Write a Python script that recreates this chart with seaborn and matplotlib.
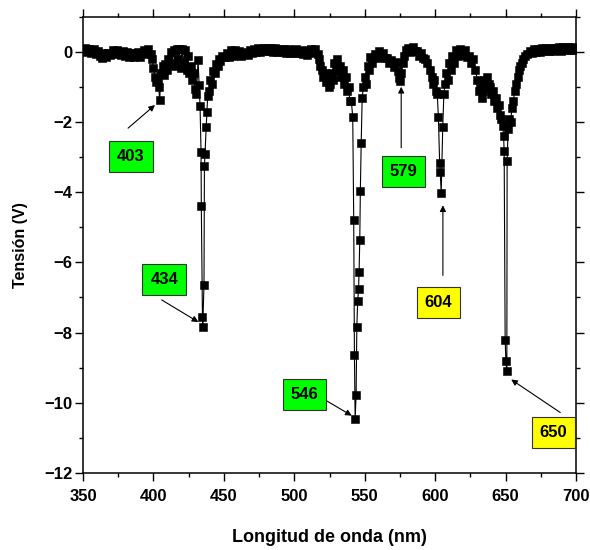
import matplotlib
matplotlib.use("Agg")
import matplotlib.pyplot as plt
import seaborn as sns
import pandas as pd

# ---------------- data ----------------
wavelength = [
    350, 351.5, 353, 354.5, 356, 357.5, 359, 360.5, 362, 363.5, 365, 366.5, 368, 369.5,
    371, 372.5, 374, 375.5, 377, 378.5, 380, 381.5, 383, 384.5, 386, 387.5, 389, 390.5,
    392, 393.5, 395, 396.5, 398,
    399, 400, 401, 402, 403, 403.8, 404.4, 405.5, 406.5, 407.5, 408.5, 409.5, 410.5,
    411.5, 412.5, 413.5, 414.5, 415.5, 416.5, 417.5, 418.5, 419.5, 420.5, 421.5, 422.5,
    423.5, 424.5, 425.5, 426.5, 427.5, 428.5, 429.5, 430.5, 431.7, 432.5,
    433.1, 433.8, 434.0, 434.8, 435.0, 435.9, 436.2, 436.6, 437.4, 437.9,
    438.5, 439.5, 440.5, 441.5, 442.5, 443.5, 444.5, 445.5, 446.5, 447.5, 449, 450.5,
    452, 453.5, 455, 456.5, 458, 459.5, 461, 462.5, 464, 465.5, 467, 468.5, 470, 471.5,
    473, 474.5, 476, 477.5, 479, 480.5, 482, 483.5, 485, 486.5, 488, 489.5, 491, 492.5,
    494, 495.5, 497, 498.5, 500, 501.5, 503, 504.5, 506, 507.5, 509, 510.5, 512, 513.5,
    515, 516.5,
    517.5, 518.5, 519.5, 520.5, 521.5, 522.5, 523.5, 524.5, 525.5, 526.5, 527.5, 528.5,
    529.5, 530.5, 531.5, 532.5, 533.5, 534.5, 535.5, 536.5, 537.5, 538.5, 539.5, 540.5,
    541.5, 542.2, 542.7, 543.2, 543.9, 544.4, 545.0, 545.6, 546.0, 546.5, 546.9, 547.5,
    548.2, 549, 550, 551, 552, 553, 554, 555.5, 557, 558.5, 560, 561.5, 563, 564.5, 566,
    567.5, 569, 570.5, 572, 573.5, 574.5, 575.2, 576, 577, 578, 579.5, 581, 582.5, 584,
    585.5, 587, 588.5, 590, 591.5, 593, 594.5, 596, 597.5, 598.5, 599.5, 600.5, 601.5,
    602.3, 603.2, 603.6, 604.3, 605.4, 606.2, 607, 608, 609, 610, 611, 612, 613.5, 615,
    616.5, 618, 619.5, 621, 622.5, 624, 625.5, 627, 628.5, 630, 631, 632, 633, 634, 635,
    636, 637, 638, 639, 640, 641, 642, 643, 644, 645, 646, 647, 648, 648.6, 649.0,
    649.7, 650.2, 650.9, 651.1, 651.8, 652.5, 653.5, 654.5, 655.5, 656.5, 657.5, 658.5,
    659.5, 660.5, 661.5, 662.5, 664, 665.5, 667, 668.5, 670, 671.5, 673, 674.5, 676,
    677.5, 679, 680.5, 682, 683.5, 685, 686.5, 688, 689.5, 691, 692.5, 694, 695.5, 697,
    698.5, 700,
]

voltage = [
    0.08, 0.12, 0.0, 0.1, -0.04, 0.08, -0.06, 0.02, -0.12, -0.16, -0.04, -0.14, -0.02, -0.09,
    0.06, -0.05, 0.07, -0.03, -0.07, 0.02, -0.11, 0.0, -0.13, -0.02, -0.15, -0.04, -0.01, -0.13,
    -0.02, 0.05, -0.06, 0.08, -0.06,
    -0.2, -0.45, -0.7, -0.85, -0.8, -1.0, -1.38, -0.6, -0.4, -0.65, -0.35, -0.5, -0.2,
    -0.35, 0.0, -0.3, 0.05, -0.4, 0.1, -0.2, 0.08, -0.45, 0.1, -0.3, 0.05,
    -0.5, -0.1, -0.6, -0.4, -0.8, -0.6, -1.05, -1.2, -0.23, -0.95,
    -1.54, -2.85, -4.4, -7.55, -7.85, -6.64, -3.25, -2.9, -2.15, -1.72,
    -1.25, -1.1, -0.8, -0.9, -0.55, -0.6, -0.35, -0.4, -0.2, -0.25, -0.1, -0.15,
    -0.02, -0.13, 0.05, -0.1, 0.06, -0.09, 0.03, -0.11, 0.01, -0.02, -0.08, 0.07, -0.04, 0.09,
    -0.01, 0.11, 0.0, 0.13, 0.02, 0.11, 0.02, 0.12, 0.0, 0.11, 0.0, 0.09, -0.01, 0.09,
    -0.03, 0.09, -0.02, 0.06, -0.04, 0.08, -0.04, 0.05, -0.06, 0.03, -0.08, 0.06, 0.1, -0.02,
    0.1, -0.05,
    -0.2, -0.4, -0.5, -0.7, -0.6, -0.85, -0.75, -1.0, -0.9, -0.6, -0.8, -0.3,
    -0.5, -0.2, -0.55, -0.4, -0.7, -0.5, -0.9, -0.7, -1.1, -1.0, -1.4, -1.4,
    -1.85, -4.8, -8.63, -10.47, -9.77, -7.83, -7.11, -6.77, -6.28, -5.35, -3.97, -2.59,
    -1.3, -1.0, -0.7, -0.9, -0.4, -0.5, -0.15, -0.3, -0.05, -0.18, 0.04, -0.12, -0.03, -0.17, -0.18,
    -0.32, -0.23, -0.42, -0.28, -0.55, -0.75, -0.82, -0.6, -0.3, -0.1, 0.05, 0.12, 0.0, 0.14,
    0.04, 0.02, -0.12, -0.03, -0.17, -0.2, -0.3, -0.5, -0.7, -0.9, -0.8, -1.1, -1.2,
    -1.85, -3.17, -3.42, -4.02, -2.13, -1.2, -0.9, -0.6, -0.8, -0.3, -0.5, -0.1, -0.3, 0.05,
    -0.12, 0.1, -0.07, 0.07, -0.15, -0.1, -0.3, -0.2, -0.5, -0.8, -1.1, -0.9, -1.3, -1.1, -0.8,
    -1.0, -0.7, -0.9, -1.0, -1.2, -1.1, -1.4, -1.3, -1.6, -1.5, -1.8, -1.9, -2.1, -2.4, -2.82,
    -8.2, -8.8, -9.11, -3.1, -2.2, -1.9, -2.0, -1.6, -1.4, -1.1, -0.9, -0.7,
    -0.5, -0.4, -0.3, -0.2, -0.1, -0.05, 0.02, -0.02, 0.08, 0.0, 0.1, 0.01, 0.11,
    0.02, 0.12, 0.03, 0.12, 0.04, 0.13, 0.05, 0.14, 0.04, 0.14, 0.05, 0.14, 0.05, 0.14,
    0.06, 0.12,
]

peak_labels = ["403", "434", "546", "579", "604", "650"]
peak_colors = ["#00FF00", "#00FF00", "#00FF00", "#00FF00", "#FFFF00", "#FFFF00"]

x_ticks = [350, 400, 450, 500, 550, 600, 650, 700]
y_ticks = [-12, -10, -8, -6, -4, -2, 0]

# ---------------- style ----------------
sns.set_theme(style="ticks")
plt.rcParams["font.family"] = ["Liberation Sans", "DejaVu Sans"]
plt.rcParams["font.weight"] = "bold"
plt.rcParams["text.color"] = "black"
plt.rcParams["axes.labelcolor"] = "black"
plt.rcParams["xtick.color"] = "black"
plt.rcParams["ytick.color"] = "black"

fig = plt.figure(figsize=(5.9, 5.5), dpi=100)
ax = fig.add_axes([83 / 590, 1 - 472.8 / 550, (576 - 83) / 590, (472.8 - 17) / 550])

df = pd.DataFrame({"wl": wavelength, "v": voltage})
sns.lineplot(data=df, x="wl", y="v", ax=ax, sort=False, estimator=None,
             color="black", linewidth=0.8, marker="s", markersize=6.3,
             markeredgecolor="black", markeredgewidth=0.4, markerfacecolor="black")

ax.set_xlim(350, 700)
ax.set_ylim(-12, 1)
ax.set_xticks(x_ticks)
ax.set_yticks(y_ticks)
ax.set_xticks([375, 425, 475, 525, 575, 625, 675], minor=True)
ax.set_yticks([-11, -9, -7, -5, -3, -1, 1], minor=True)
for side in ["top", "right", "left", "bottom"]:
    ax.spines[side].set_visible(True)
    ax.spines[side].set_linewidth(1.1)
    ax.spines[side].set_color("black")
ax.tick_params(which="both", direction="out", top=True, right=True,
               labeltop=False, labelright=False, width=1.0, color="black",
               labelcolor="black")
ax.tick_params(which="major", length=6)
ax.tick_params(which="minor", length=3)
ax.tick_params(axis="x", which="major", pad=6, labelsize=12)
ax.tick_params(axis="y", which="major", pad=1.5, labelsize=12)
for lab in ax.get_xticklabels() + ax.get_yticklabels():
    lab.set_fontweight("bold")

ax.set_xlabel("Longitud de onda (nm)", fontsize=13, fontweight="bold", labelpad=18, color="black")
ax.set_ylabel("Tensión (V)", fontsize=11.5, fontweight="bold", labelpad=12, color="black")

# ---------------- annotations ----------------
box_pos = [(384.1, -2.97), (407.7, -6.5), (507.2, -9.76), (577.5, -3.42), (602.3, -7.14), (684.0, -10.84)]
arrow_tail = [(382.0, -2.17), (405.9, -7.07), (522.6, -9.94), (575.9, -2.73), (605.5, -6.37), (688.8, -10.28)]
arrow_tip = [(401.1, -1.51), (431.9, -7.7), (540.8, -10.37), (575.9, -0.99), (605.5, -4.37), (654.0, -9.34)]

for lab, col, bp, tl, tp in zip(peak_labels, peak_colors, box_pos, arrow_tail, arrow_tip):
    ax.annotate("", xy=tp, xytext=tl,
                arrowprops=dict(arrowstyle="-|>", color="black", lw=0.8,
                                mutation_scale=9, shrinkA=0, shrinkB=0))
    ax.text(bp[0], bp[1], lab, fontsize=12, fontweight="bold", ha="center", va="center",
            color="black",
            bbox=dict(boxstyle="square,pad=0.48", facecolor=col, edgecolor="#333333", linewidth=0.8))

fig.savefig("out.png", dpi=100)
